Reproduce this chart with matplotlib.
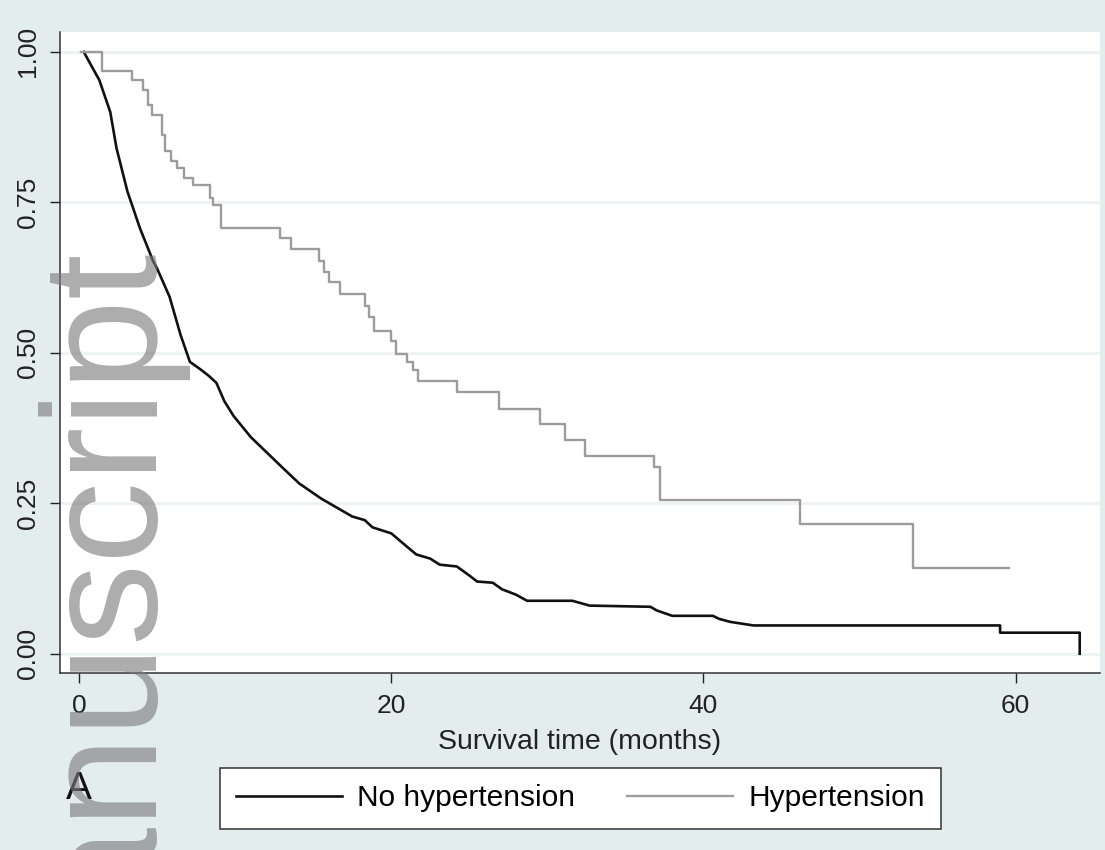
import numpy as np
import matplotlib
matplotlib.use("Agg")
import matplotlib.pyplot as plt

plt.rcParams['font.family'] = ['Liberation Sans', 'DejaVu Sans']

# Kaplan-Meier estimates (months, survival)
no_htn_t = [0.3, 1.3, 2.0, 2.4, 3.1, 3.9, 4.75, 5.0, 5.8, 6.5, 7.1, 7.75, 8.3, 8.8,
            9.3, 9.9, 11.0, 12.0, 13.0, 14.1, 15.5, 16.5, 17.5, 18.3, 18.8, 20.0,
            21.0, 21.6, 22.5, 23.1, 24.2, 25.0, 25.5, 26.5, 27.1, 28.0, 28.7, 31.6,
            32.7, 36.6, 37.0, 38.0, 40.6, 41.0, 41.7, 43.2, 59.0, 59.0, 64.1, 64.1]
no_htn_s = [1.0, 0.953, 0.9, 0.84, 0.768, 0.707, 0.652, 0.64, 0.593, 0.53, 0.485, 0.473,
            0.462, 0.45, 0.42, 0.395, 0.36, 0.335, 0.31, 0.283, 0.258, 0.243, 0.228,
            0.222, 0.21, 0.2, 0.178, 0.165, 0.158, 0.148, 0.145, 0.13, 0.12, 0.118,
            0.107, 0.098, 0.088, 0.088, 0.08, 0.078, 0.072, 0.063, 0.063, 0.058, 0.053,
            0.047, 0.047, 0.035, 0.035, 0.0]

htn_t = [0.1, 1.5, 3.4, 4.1, 4.4, 4.7, 5.3, 5.5, 5.9, 6.3, 6.7, 7.3, 8.4, 8.6, 9.1,
         12.9, 13.6, 15.4, 15.7, 16.0, 16.7, 18.3, 18.6, 18.9, 20.0, 20.3, 21.0,
         21.4, 21.7, 24.2, 26.9, 29.5, 31.1, 32.4, 36.8, 37.2, 46.2, 53.4, 59.6]
htn_s = [1.0, 0.968, 0.953, 0.937, 0.912, 0.895, 0.862, 0.835, 0.818, 0.807, 0.79,
         0.778, 0.757, 0.745, 0.707, 0.69, 0.673, 0.652, 0.635, 0.618, 0.598, 0.578,
         0.56, 0.537, 0.52, 0.498, 0.485, 0.472, 0.453, 0.435, 0.407, 0.382, 0.355,
         0.328, 0.31, 0.255, 0.215, 0.143, 0.143]

x_ticks = [0, 20, 40, 60]
y_ticks = [0, 0.25, 0.5, 0.75, 1.0]
y_labels = ['0.00', '0.25', '0.50', '0.75', '1.00']
labels = ['No hypertension', 'Hypertension']

bg = '#e3eded'
fig = plt.figure(figsize=(11.05, 8.5), dpi=100, facecolor=bg)
ax = fig.add_axes([60 / 1105, 1 - 673 / 850, 1040 / 1105, 641 / 850])
ax.set_facecolor('white')

for y in y_ticks:
    ax.axhline(y, color='#edf2f2', lw=2.2, zorder=0)

l1, = ax.plot(no_htn_t, no_htn_s, color='#111111', lw=1.9)
l2, = ax.step(htn_t, htn_s, where='post', color='#9c9c9c', lw=1.7)

ax.set_xlim(-1.22, 65.4)
ax.set_ylim(-0.032, 1.033)
ax.set_xticks(x_ticks)
ax.set_yticks(y_ticks)
ax.set_yticklabels(y_labels, rotation=90, va='center')
ax.tick_params(axis='both', labelsize=19, colors='#222222', length=7, width=1)
ax.tick_params(axis='y', pad=7.5)
ax.tick_params(axis='x', pad=8)
for s in ['top', 'right']:
    ax.spines[s].set_visible(False)
for s in ['left', 'bottom']:
    ax.spines[s].set_color('#333333')
    ax.spines[s].set_linewidth(1.1)
ax.set_xlabel('Survival time (months)', fontsize=20.5, color='#222222', labelpad=8)

leg = fig.legend([l1, l2], labels, loc='center', bbox_to_anchor=(0.5253, 0.0606),
                 ncol=2, fontsize=21.5, handlelength=3.55, handletextpad=0.5,
                 columnspacing=1.75, borderpad=0.55, fancybox=False, framealpha=1)
leg.get_frame().set_edgecolor('#333333')
leg.get_frame().set_linewidth(1.1)

fig.text(79 / 1105, 1 - 789 / 850, 'A', fontsize=28, ha='center', va='center', color='#111111')

# watermark
fig.text(144 / 1105, 1 - 239 / 850, 'Manuscript', fontsize=118, rotation=90,
         rotation_mode='anchor', ha='right', va='baseline', color='#7a7a7a', alpha=0.62)

fig.savefig('out.png', dpi=100, facecolor=bg)
